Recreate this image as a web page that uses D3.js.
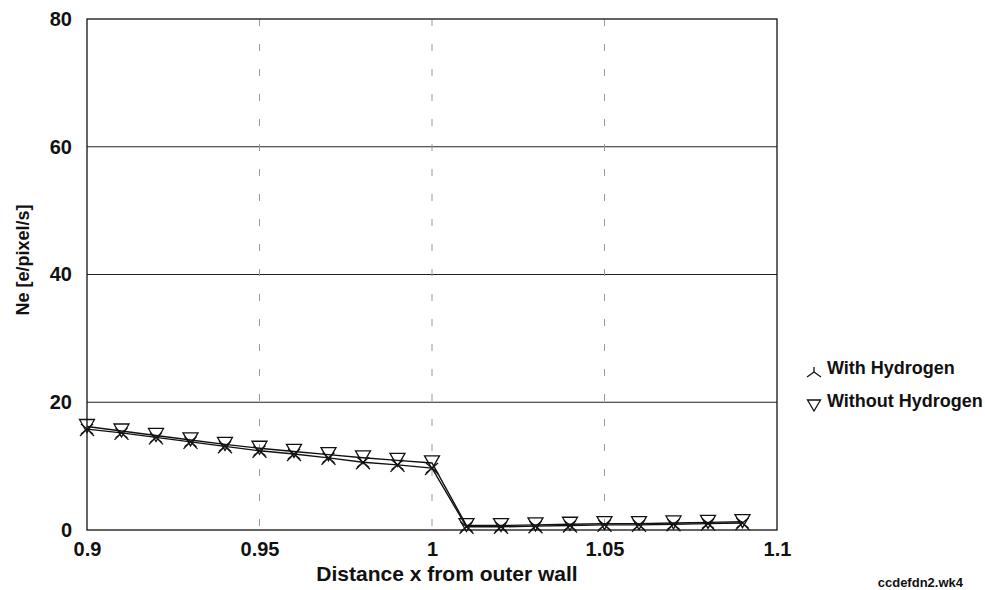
<!DOCTYPE html>
<html>
<head>
<meta charset="utf-8">
<script src="https://cdn.jsdelivr.net/npm/d3@7"></script>
<style>
  body { margin: 0; background: #fff; }
  text { font-family: "Liberation Sans", Arial, sans-serif; fill: #111; }
</style>
</head>
<body>
<svg id="chart" width="985" height="590"></svg>
<script>
// data
var xs = [0.90, 0.91, 0.92, 0.93, 0.94, 0.95, 0.96, 0.97, 0.98, 0.99, 1.00,
          1.01, 1.02, 1.03, 1.04, 1.05, 1.06, 1.07, 1.08, 1.09];
var withH = [15.8, 15.2, 14.5, 13.8, 13.1, 12.4, 11.9, 11.3, 10.6, 10.2, 9.7,
             0.5, 0.5, 0.6, 0.7, 0.8, 0.8, 0.9, 1.0, 1.1];
var withoutH = [16.2, 15.5, 14.8, 14.1, 13.4, 12.8, 12.3, 11.8, 11.3, 10.9, 10.5,
                0.7, 0.7, 0.8, 0.9, 1.0, 1.0, 1.1, 1.2, 1.3];
var xTicks = [0.9, 0.95, 1, 1.05, 1.1];
var yTicks = [0, 20, 40, 60, 80];
var seriesNames = ["With Hydrogen", "Without Hydrogen"];

var svg = d3.select("#chart");
var margin = { top: 19, right: 208, bottom: 60, left: 87 };
var width = 985 - margin.left - margin.right;
var height = 590 - margin.top - margin.bottom;

var x = d3.scaleLinear().domain([0.9, 1.1]).range([0, width]);
var y = d3.scaleLinear().domain([0, 80]).range([height, 0]);

var g = svg.append("g")
  .attr("transform", "translate(" + margin.left + "," + margin.top + ")");

// horizontal grid lines
g.append("g").selectAll("line")
  .data(yTicks.filter(function(d) { return d > 0 && d < 80; }))
  .enter().append("line")
    .attr("x1", 0).attr("x2", width)
    .attr("y1", function(d) { return y(d); })
    .attr("y2", function(d) { return y(d); })
    .attr("stroke", "#222").attr("stroke-width", 1);

// vertical dashed grid lines
g.append("g").selectAll("line")
  .data(xTicks.filter(function(d) { return d > 0.9 && d < 1.1; }))
  .enter().append("line")
    .attr("x1", function(d) { return x(d); })
    .attr("x2", function(d) { return x(d); })
    .attr("y1", 0).attr("y2", height)
    .attr("stroke", "#999").attr("stroke-width", 1)
    .attr("stroke-dasharray", "7,18");

// frame
g.append("rect")
  .attr("width", width).attr("height", height)
  .attr("fill", "none").attr("stroke", "#111").attr("stroke-width", 1.3);

// axes (labels only, frame draws the lines)
var xAxis = d3.axisBottom(x).tickValues(xTicks).tickSize(0).tickPadding(12)
  .tickFormat(function(d) { return d3.format("")(+d.toFixed(2)); });
var gx = g.append("g").attr("transform", "translate(0," + height + ")").call(xAxis);
gx.select(".domain").remove();
gx.selectAll("text").attr("font-size", 20).attr("font-weight", "bold")
  .attr("font-family", "Liberation Sans, Arial, sans-serif").attr("fill", "#111");

var yAxis = d3.axisLeft(y).tickValues(yTicks).tickSize(0).tickPadding(15);
var gy = g.append("g").call(yAxis);
gy.select(".domain").remove();
gy.selectAll("text").attr("font-size", 20).attr("font-weight", "bold")
  .attr("font-family", "Liberation Sans, Arial, sans-serif").attr("fill", "#111");

// axis titles
svg.append("text")
  .attr("x", 447)
  .attr("y", 581)
  .attr("text-anchor", "middle")
  .attr("font-size", 21)
  .attr("font-weight", "bold")
  .text("Distance x from outer wall");

svg.append("text")
  .attr("transform", "translate(29,260) rotate(-90)")
  .attr("text-anchor", "middle")
  .attr("font-size", 18)
  .attr("font-weight", "bold")
  .text("Ne [e/pixel/s]");

// lines
var line = d3.line()
  .x(function(d) { return x(d[0]); })
  .y(function(d) { return y(d[1]); });

var dataWith = xs.map(function(v, i) { return [v, withH[i]]; });
var dataWithout = xs.map(function(v, i) { return [v, withoutH[i]]; });

g.append("path").datum(dataWithout).attr("d", line)
  .attr("fill", "none").attr("stroke", "#111").attr("stroke-width", 1.4);
g.append("path").datum(dataWith).attr("d", line)
  .attr("fill", "none").attr("stroke", "#111").attr("stroke-width", 1.4);

// markers
var starPath = "M-7,7L0,0L7,7M-6,-5L6,5M6,-5L-6,5";
var triPath = "M-7.5,-6L7.5,-6L0,7Z";

g.append("g").selectAll("path")
  .data(dataWith).enter().append("path")
    .attr("transform", function(d) { return "translate(" + x(d[0]) + "," + y(d[1]) + ")"; })
    .attr("d", starPath)
    .attr("fill", "none").attr("stroke", "#111").attr("stroke-width", 1.3);

g.append("g").selectAll("path")
  .data(dataWithout).enter().append("path")
    .attr("transform", function(d) { return "translate(" + x(d[0]) + "," + (y(d[1]) - 1) + ")"; })
    .attr("d", triPath)
    .attr("fill", "none").attr("stroke", "#111").attr("stroke-width", 1.3);

// legend
var legendRows = svg.append("g").selectAll("g").data(seriesNames).enter().append("g")
  .attr("transform", function(d, i) { return "translate(814," + (368 + i * 33) + ")"; });
legendRows.append("path")
  .attr("transform", "translate(0,4)")
  .attr("d", function(d, i) { return i === 0 ? "M0,-5L0,0M-7,5L0,0L7,5" : "M-6.5,-5L6.5,-5L0,6Z"; })
  .attr("fill", "none").attr("stroke", "#111").attr("stroke-width", 1.3);
legendRows.append("text")
  .attr("x", 13).attr("y", 6)
  .attr("font-size", 18).attr("font-weight", "bold")
  .text(function(d) { return d; });

// file name note
svg.append("text")
  .attr("x", 963).attr("y", 587)
  .attr("text-anchor", "end")
  .attr("font-size", 13)
  .attr("font-weight", "bold")
  .text("ccdefdn2.wk4");
</script>
</body>
</html>
